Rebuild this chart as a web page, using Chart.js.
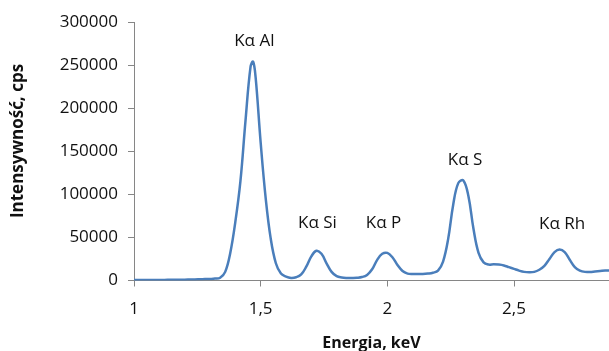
<!DOCTYPE html>
<html>
<head>
<meta charset="utf-8">
<script src="https://cdn.jsdelivr.net/npm/chart.js@4"></script>
<style>
  html, body { margin: 0; padding: 0; background: #fff; overflow: hidden; }
  #wrap { width: 609px; height: 351px; }
</style>
</head>
<body>
<div id="wrap"><canvas id="widmo"></canvas></div>
<script>
// Widmo XRF - energia (keV) i intensywnosc (cps)
const energia = [
  1.00, 1.02, 1.04, 1.06, 1.08, 1.10, 1.12, 1.14, 1.16, 1.18,
  1.20, 1.22, 1.24, 1.26, 1.28, 1.30, 1.32, 1.34, 1.36, 1.38,
  1.40, 1.42, 1.44, 1.46, 1.47, 1.48, 1.50, 1.52, 1.54, 1.56,
  1.58, 1.60, 1.62, 1.64, 1.66, 1.68, 1.70, 1.72, 1.74, 1.76,
  1.78, 1.80, 1.82, 1.84, 1.86, 1.88, 1.90, 1.92, 1.94, 1.96,
  1.98, 2.00, 2.02, 2.04, 2.06, 2.08, 2.10, 2.12, 2.14, 2.16,
  2.18, 2.20, 2.22, 2.24, 2.26, 2.28, 2.30, 2.32, 2.34, 2.36,
  2.38, 2.40, 2.42, 2.44, 2.46, 2.48, 2.50, 2.52, 2.54, 2.56,
  2.58, 2.60, 2.62, 2.64, 2.66, 2.68, 2.70, 2.72, 2.74, 2.76,
  2.78, 2.80, 2.82, 2.84, 2.86, 2.88
];
const intensywnosc = [
  500, 500, 500, 600, 600, 700, 700, 800, 900, 1000,
  1000, 1100, 1200, 1400, 1600, 1800, 2200, 3200, 10000, 32000,
  68000, 115000, 185000, 248000, 254000, 236000, 160000, 95000, 48000, 20000,
  8000, 4500, 3000, 3800, 7000, 16000, 28000, 34500, 31000, 20000,
  10000, 5000, 3500, 3000, 3000, 3200, 4000, 6500, 13000, 24000,
  31000, 32000, 27000, 18000, 11000, 8000, 7500, 7500, 7500, 8000,
  9000, 11500, 22000, 48000, 88000, 113000, 116000, 98000, 60000, 32000,
  21000, 18500, 18800, 18500, 17500, 15500, 13500, 11500, 10000, 9500,
  10000, 12500, 17000, 25000, 33000, 36000, 33000, 24000, 15500, 11500,
  10000, 10000, 10500, 11000, 11500, 11500
];

// Ticki osi
const xTicks = [1, 1.5, 2, 2.5];
const yTicks = [0, 50000, 100000, 150000, 200000, 250000, 300000];

// Opisy pikow
const piki = ['Kα Al', 'Kα Si', 'Kα P', 'Kα S', 'Kα Rh'];
const pikiEnergia = [1.475, 1.724, 1.985, 2.307, 2.690];
const pikiPoziom = [271800, 60600, 60600, 134000, 60000];

const kolorOsi = '#868686';
const kolorTekstu = '#111111';
const czcionka = "'Open Sans', 'Noto Sans', sans-serif";

// plugin: opisy pikow + tytul osi Y
const opisyPlugin = {
  id: 'opisy',
  afterDatasetsDraw(chart) {
    const c = chart.ctx;
    const x = chart.scales.x;
    const y = chart.scales.y;
    c.save();
    c.fillStyle = kolorTekstu;
    c.font = '17px ' + czcionka;
    c.textAlign = 'center';
    c.textBaseline = 'alphabetic';
    piki.forEach((t, i) => {
      c.fillText(t, x.getPixelForValue(pikiEnergia[i]), y.getPixelForValue(pikiPoziom[i]));
    });
    // tytul osi Y
    c.font = 'bold 17px ' + czcionka;
    c.textBaseline = 'middle';
    c.translate(18, 141);
    c.rotate(-Math.PI / 2);
    c.fillText('Intensywność, cps', 0, 0);
    c.restore();
  }
};

const punkty = energia.map((e, i) => ({ x: e, y: intensywnosc[i] }));

new Chart(document.getElementById('widmo'), {
  type: 'line',
  data: {
    datasets: [{
      data: punkty,
      borderColor: '#4a7ebb',
      borderWidth: 2.5,
      pointRadius: 0,
      fill: false,
      tension: 0.4
    }]
  },
  options: {
    responsive: true,
    maintainAspectRatio: false,
    animation: false,
    layout: { padding: { top: 22, right: 0, left: 0, bottom: 0 } },
    plugins: {
      legend: { display: false },
      tooltip: { enabled: false }
    },
    scales: {
      x: {
        type: 'linear',
        min: 1,
        max: 2.875,
        afterBuildTicks: s => { s.ticks = xTicks.map(v => ({ value: v })); },
        afterFit: s => { s.height = 70.5; },
        ticks: {
          color: kolorTekstu,
          font: { family: czcionka, size: 17 },
          padding: 12,
          maxRotation: 0,
          callback: v => String(v).replace('.', ',')
        },
        grid: { drawOnChartArea: false, drawTicks: true, tickLength: 6, color: kolorOsi },
        border: { color: kolorOsi, width: 1 },
        title: {
          display: true,
          text: 'Energia, keV',
          color: kolorTekstu,
          font: { family: czcionka, size: 16, weight: 'bold' },
          padding: { top: 0, bottom: -2 }
        }
      },
      y: {
        min: 0,
        max: 300000,
        afterBuildTicks: s => { s.ticks = yTicks.map(v => ({ value: v })); },
        afterFit: s => { s.width = 134; },
        ticks: {
          color: kolorTekstu,
          font: { family: czcionka, size: 17 },
          padding: 10,
          callback: v => String(v)
        },
        grid: { drawOnChartArea: false, drawTicks: true, tickLength: 6, color: kolorOsi },
        border: { color: kolorOsi, width: 1 }
      }
    }
  },
  plugins: [opisyPlugin]
});
</script>
</body>
</html>
